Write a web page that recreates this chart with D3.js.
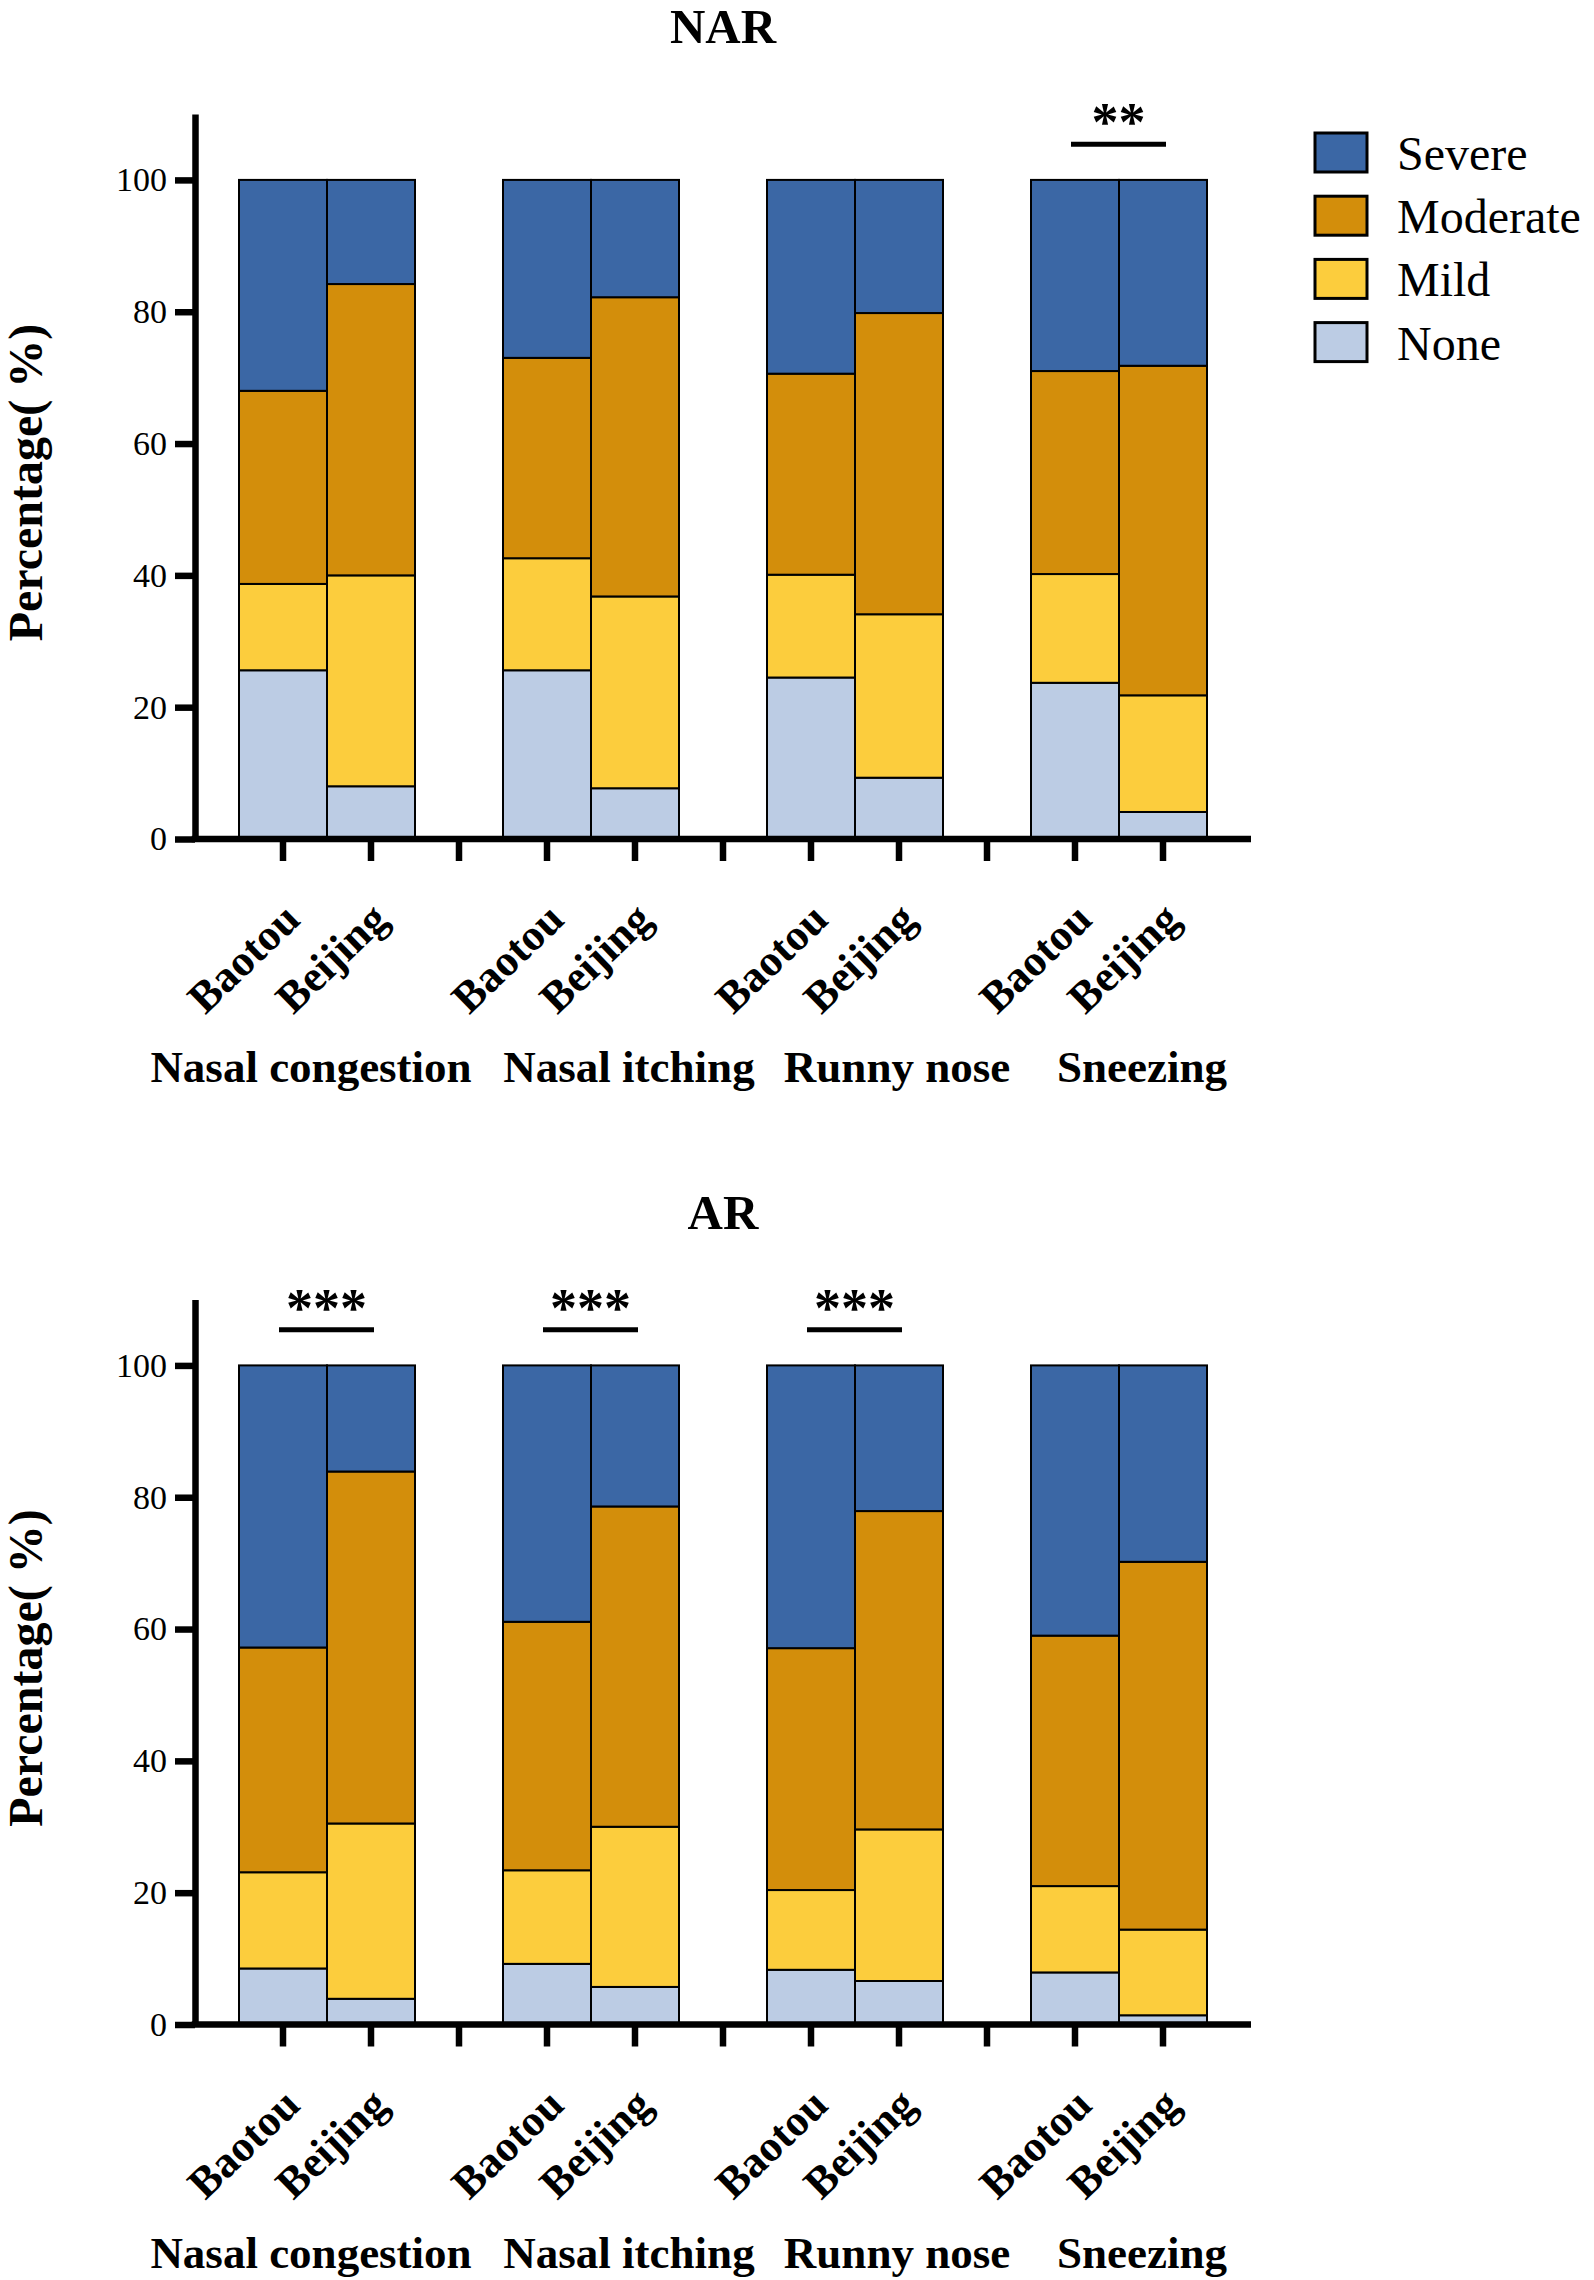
<!DOCTYPE html>
<html>
<head>
<meta charset="utf-8">
<script src="https://cdn.jsdelivr.net/npm/d3@7"></script>
<style>
  body { margin: 0; background: #fff; }
  svg, svg text { font-family: "Liberation Serif", "Times New Roman", serif; }
</style>
</head>
<body>
<script>
// Categories
var symptoms = ["Nasal congestion", "Nasal itching", "Runny nose", "Sneezing"];
var cities = ["Baotou", "Beijing"];
var levels = ["None", "Mild", "Moderate", "Severe"];
var yTicks = [0, 20, 40, 60, 80, 100];

// NAR percentages, bar order: NC-Baotou, NC-Beijing, NI-Baotou, NI-Beijing, RN-Baotou, RN-Beijing, SN-Baotou, SN-Beijing
var narNone     = [25.6,  8.0, 25.6,  7.7, 24.5,  9.3, 23.7,  4.1];
var narMild     = [13.1, 32.0, 17.0, 29.1, 15.6, 24.8, 16.5, 17.7];
var narModerate = [29.3, 44.2, 30.4, 45.4, 30.5, 45.7, 30.8, 50.0];
var narSevere   = [32.0, 15.8, 27.0, 17.8, 29.4, 20.2, 29.0, 28.2];
var narSig      = [null, null, null, "**"];

// AR percentages, same order
var arNone      = [ 8.5,  3.9,  9.2,  5.7,  8.3,  6.6,  7.9,  1.4];
var arMild      = [14.6, 26.6, 14.2, 24.3, 12.1, 23.0, 13.1, 13.0];
var arModerate  = [34.1, 53.4, 37.7, 48.6, 36.7, 48.3, 38.0, 55.8];
var arSevere    = [42.8, 16.1, 38.9, 21.4, 42.9, 22.1, 41.0, 29.8];
var arSig       = ["***", "***", "***", null];

var colors = {None: "#bccce4", Mild: "#fccd3d", Moderate: "#d38e0b", Severe: "#3b67a5"};

// Dimensions
var margin = {top: 114, left: 195},
    width = 1056,
    height = 725,
    panelGap = 1185.5;

// label offsets from group centre (px), the original labels are not centred
var groupLabelShift = [-16, 38, 42, 23];

var svg = d3.select("body").append("svg")
    .attr("width", 1594)
    .attr("height", 2280);

// band keys, with an empty slot between symptom groups
var slots = [];
symptoms.forEach(function(s, i) {
  cities.forEach(function(c) { slots.push(s + "|" + c); });
  if (i < symptoms.length - 1) slots.push("gap" + i);
});

var x = d3.scaleBand()
    .domain(slots)
    .range([0, width])
    .paddingInner(0)
    .paddingOuter(0.5);

var y = d3.scaleLinear()
    .domain([0, 110])
    .range([height, 0]);

function drawPanel(offsetY, title, none, mild, moderate, severe, sig) {
  var g = svg.append("g")
      .attr("transform", "translate(" + margin.left + "," + (margin.top + offsetY) + ")");

  var rows = [];
  symptoms.forEach(function(s, i) {
    cities.forEach(function(c, j) {
      var k = i * 2 + j;
      rows.push({key: s + "|" + c, None: none[k], Mild: mild[k], Moderate: moderate[k], Severe: severe[k]});
    });
  });

  var stacked = d3.stack().keys(levels)(rows);

  g.selectAll("g.layer")
    .data(stacked)
    .enter().append("g")
      .attr("class", "layer")
      .attr("fill", function(d) { return colors[d.key]; })
    .selectAll("rect")
    .data(function(d) { return d; })
    .enter().append("rect")
      .attr("x", function(d) { return x(d.data.key); })
      .attr("y", function(d) { return y(d[1]); })
      .attr("width", x.bandwidth())
      .attr("height", function(d) { return y(d[0]) - y(d[1]); })
      .attr("stroke", "#000")
      .attr("stroke-width", 2);

  // Y axis
  var yAxis = g.append("g")
      .call(d3.axisLeft(y).tickValues(yTicks).tickSize(20).tickSizeOuter(0).tickPadding(8));
  yAxis.attr("font-family", null);
  yAxis.select(".domain").attr("stroke-width", 6.5);
  yAxis.selectAll(".tick line").attr("stroke-width", 6.5);
  yAxis.selectAll("text")
      .style("font-family", "'Liberation Serif', 'Times New Roman', serif")
      .style("font-size", "34px");

  // X axis
  var xAxis = g.append("g")
      .attr("transform", "translate(0," + height + ")")
      .call(d3.axisBottom(x).tickSize(22).tickSizeOuter(0)
        .tickFormat(function(d) { return d.indexOf("|") < 0 ? "" : d.split("|")[1]; }));
  xAxis.attr("font-family", null);
  xAxis.select(".domain").attr("stroke-width", 6.5).attr("d", "M-3.25,0H" + width);
  xAxis.selectAll(".tick line").attr("stroke-width", 6.5);
  xAxis.selectAll("text")
      .attr("x", 0).attr("y", 0).attr("dy", null)
      .attr("transform", "translate(19,83) rotate(-44)")
      .attr("text-anchor", "end")
      .style("font-family", "'Liberation Serif', 'Times New Roman', serif")
      .style("font-weight", "bold")
      .style("font-size", "44px");

  // symptom group labels
  g.selectAll("text.group")
    .data(symptoms)
    .enter().append("text")
      .attr("class", "group")
      .attr("x", function(d, i) { return x(d + "|" + cities[0]) + x.bandwidth() + groupLabelShift[i]; })
      .attr("y", height + 243)
      .attr("text-anchor", "middle")
      .attr("font-weight", "bold")
      .attr("font-size", 45)
      .text(function(d) { return d; });

  // significance marks
  symptoms.forEach(function(s, i) {
    if (!sig[i]) return;
    var x1 = x(s + "|" + cities[0]) + x.bandwidth() / 2 - 4,
        x2 = x(s + "|" + cities[1]) + x.bandwidth() / 2 + 3;
    g.append("line")
      .attr("x1", x1).attr("x2", x2)
      .attr("y1", y(105.4)).attr("y2", y(105.4))
      .attr("stroke", "#000")
      .attr("stroke-width", 5);
    g.append("text")
      .attr("x", (x1 + x2) / 2)
      .attr("y", y(105.4) - 4)
      .attr("text-anchor", "middle")
      .attr("font-weight", "bold")
      .attr("font-size", 54)
      .text(sig[i]);
  });

  // title
  g.append("text")
    .attr("x", width / 2)
    .attr("y", -71)
    .attr("text-anchor", "middle")
    .attr("font-weight", "bold")
    .attr("font-size", 49)
    .text(title);

  // y axis title
  g.append("text")
    .attr("transform", "translate(-153," + (height / 2 + 6) + ") rotate(-90)")
    .attr("text-anchor", "middle")
    .attr("font-weight", "bold")
    .attr("font-size", 48)
    .text("Percentage( %)");
}

drawPanel(0, "NAR", narNone, narMild, narModerate, narSevere, narSig);
drawPanel(panelGap, "AR", arNone, arMild, arModerate, arSevere, arSig);

// Legend (top right)
var legendOrder = levels.slice().reverse();
var legend = svg.append("g")
    .attr("transform", "translate(1315,133)");

legend.selectAll("rect")
  .data(legendOrder)
  .enter().append("rect")
    .attr("x", 0)
    .attr("y", function(d, i) { return i * 63.2; })
    .attr("width", 52)
    .attr("height", 39)
    .attr("fill", function(d) { return colors[d]; })
    .attr("stroke", "#000")
    .attr("stroke-width", 3);

legend.selectAll("text")
  .data(legendOrder)
  .enter().append("text")
    .attr("x", 82)
    .attr("y", function(d, i) { return 37 + i * 63.2; })
    .attr("font-size", 48)
    .text(function(d) { return d; });
</script>
</body>
</html>
